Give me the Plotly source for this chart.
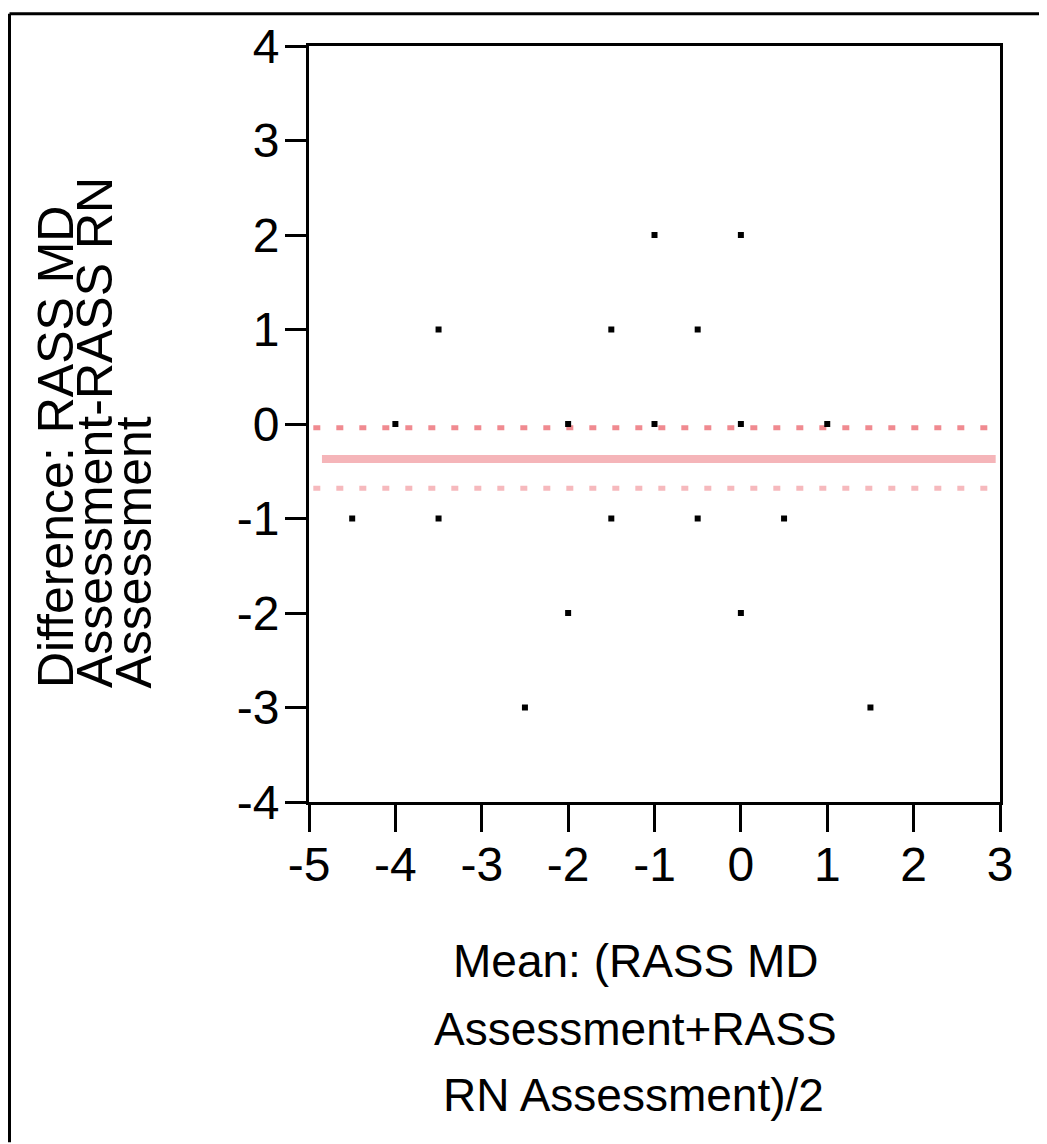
import plotly.graph_objects as go

# Data (Bland-Altman style plot)
mean_vals = [-4.5, -4.0, -3.5, -3.5, -2.5, -2.0, -2.0, -1.5, -1.5, -1.0, -1.0,
             -0.5, -0.5, 0.0, 0.0, 0.0, 0.5, 1.0, 1.5]
diff_vals = [-1, 0, 1, -1, -3, 0, -2, 1, -1, 2, 0,
             1, -1, 2, 0, -2, -1, 0, -3]
bias = -0.37
upper_line = -0.04
lower_line = -0.68
line_x = [-4.85, 2.95]
dot_x = [-4.95, 2.95]

x_ticks = [-5, -4, -3, -2, -1, 0, 1, 2, 3]
y_ticks = [-4, -3, -2, -1, 0, 1, 2, 3, 4]

y_title_lines = ["Difference: RASS MD", "Assessment-RASS RN", "Assessment"]
x_title_lines = ["Mean: (RASS MD", "Assessment+RASS", "RN Assessment)/2"]

OFF = 8  # page body margin
W, H = 1047 - OFF, 1144 - OFF
L, T = 309 - OFF, 42 - OFF
pw, ph = 691, 760
R, B = W - L - pw, H - T - ph

def px(x):  # page x -> paper
    return (x - OFF - L) / pw

def py(y):  # page y -> paper
    return (H - B - (y - OFF)) / ph

FONT = "Liberation Sans, Arial, sans-serif"

fig = go.Figure()

fig.add_trace(go.Scatter(x=line_x, y=[bias, bias], mode="lines",
                         line=dict(color="#f5b5b9", width=8), hoverinfo="skip"))
fig.add_trace(go.Scatter(x=dot_x, y=[upper_line, upper_line], mode="lines",
                         line=dict(color="#f08a90", width=5, dash="7px,16px"), hoverinfo="skip"))
fig.add_trace(go.Scatter(x=dot_x, y=[lower_line, lower_line], mode="lines",
                         line=dict(color="#f6b9bd", width=5, dash="7px,16px"), hoverinfo="skip"))
fig.add_trace(go.Scatter(x=mean_vals, y=diff_vals, mode="markers",
                         marker=dict(symbol="square", size=6, color="black"),
                         hoverinfo="x+y"))

annotations = []
for xc, t in zip([56, 95, 134], y_title_lines):
    annotations.append(dict(text=t, x=px(xc), y=py(690), xref="paper", yref="paper",
                            xanchor="center", yanchor="bottom", textangle=-90,
                            showarrow=False, font=dict(family=FONT, size=50, color="black")))
for (xc, yc), t in zip([(636, 962), (635, 1030), (633, 1097)], x_title_lines):
    annotations.append(dict(text=t, x=px(xc), y=py(yc), xref="paper", yref="paper",
                            xanchor="center", yanchor="middle",
                            showarrow=False, font=dict(family=FONT, size=46, color="black")))

shapes = [
    # outer frame (left and top edges)
    dict(type="line", xref="paper", yref="paper", x0=px(9.5), x1=px(9.5), y0=py(9.5), y1=py(1144),
         line=dict(color="black", width=3)),
    dict(type="line", xref="paper", yref="paper", x0=px(9.5), x1=px(1047), y0=py(9.5), y1=py(9.5),
         line=dict(color="black", width=3)),
]

fig.update_layout(
    width=W, height=H,
    margin=dict(l=L, r=R, t=T, b=B),
    paper_bgcolor="white", plot_bgcolor="white",
    showlegend=False,
    font=dict(family=FONT, size=48, color="black"),
    annotations=annotations,
    shapes=shapes,
)
fig.update_xaxes(range=[-5, 3], tickvals=x_ticks, ticktext=[str(v) for v in x_ticks],
                 showgrid=False, zeroline=False, showline=True, linecolor="black", linewidth=3,
                 mirror=True, ticks="outside", ticklen=27, tickwidth=3, tickcolor="black",
                 ticklabelstandoff=-9,
                 tickfont=dict(family=FONT, size=48, color="black"))
fig.update_yaxes(range=[-4, 4], tickvals=y_ticks, ticktext=[str(v) for v in y_ticks],
                 showgrid=False, zeroline=False, showline=True, linecolor="black", linewidth=3,
                 mirror=True, ticks="outside", ticklen=21, tickwidth=3, tickcolor="black",
                 ticklabelstandoff=-4,
                 tickfont=dict(family=FONT, size=48, color="black"))

fig.write_html("out.html")
